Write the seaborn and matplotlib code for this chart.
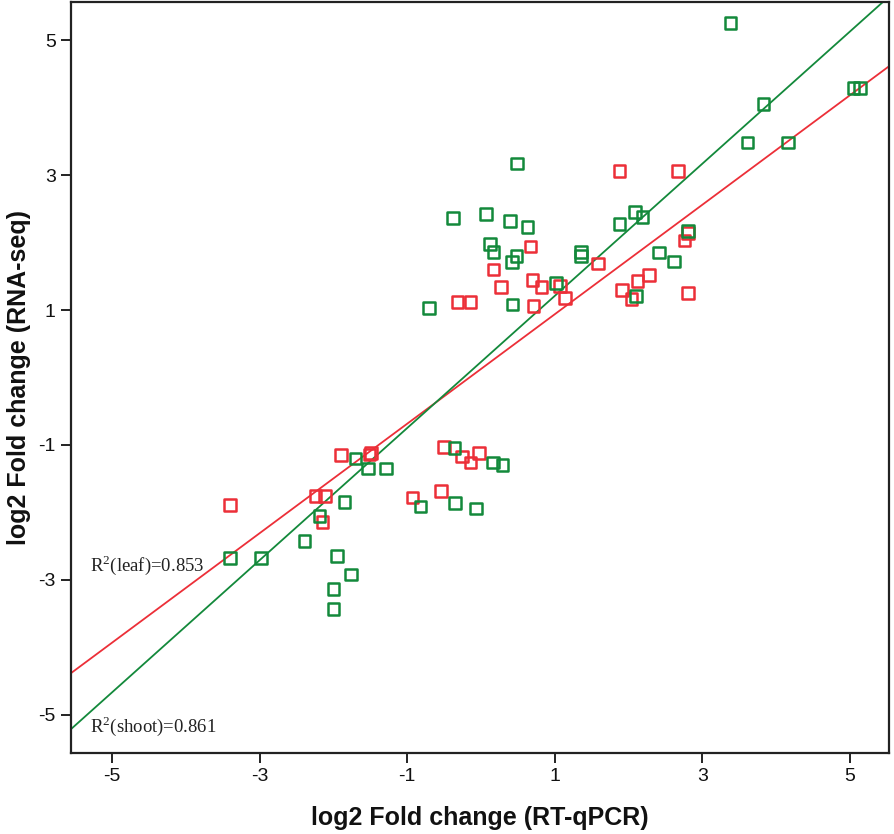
import numpy as np
import pandas as pd
import matplotlib
matplotlib.use("Agg")
import matplotlib.pyplot as plt
import seaborn as sns

# ---- data ----
shoot_x = [3.38, 5.05, 5.14, 3.83, 3.61, 4.16, 0.49, -0.375, 0.07, 0.39, 0.63,
           0.12, 0.17, 0.48, 0.42, -0.70, 0.43, 1.36, 1.36, 1.02, 1.88, 2.09,
           2.19, 2.81, 2.41, 2.62, 2.10,
           -1.70, -1.53, -1.29, -1.85, -2.19, -2.39, -1.95, -1.76, -2.00, -2.00,
           -0.82, -0.36, -0.35, -0.07, 0.16, 0.29, -3.40, -2.98]
shoot_y = [5.25, 4.29, 4.29, 4.05, 3.48, 3.48, 3.17, 2.36, 2.42, 2.32, 2.23,
           1.98, 1.86, 1.80, 1.71, 1.03, 1.08, 1.86, 1.80, 1.40, 2.27, 2.45,
           2.38, 2.17, 1.85, 1.72, 1.21,
           -1.20, -1.35, -1.35, -1.84, -2.05, -2.42, -2.64, -2.92, -3.13, -3.43,
           -1.91, -1.04, -1.86, -1.94, -1.26, -1.30, -2.67, -2.67]
leaf_x = [1.88, 2.67, 0.67, 0.17, 0.27, 0.70, 0.82, 1.07, 1.14, -0.32, -0.14,
          0.71, 1.59, 1.91, 2.12, 2.28, 2.04, 2.81, 2.76, 2.81,
          -1.90, -1.51, -1.49, -2.24, -2.11, -2.15, -0.93, -0.54, -0.50, -0.26,
          -0.14, -0.03, -3.40]
leaf_y = [3.06, 3.06, 1.94, 1.60, 1.34, 1.44, 1.34, 1.36, 1.18, 1.12, 1.12,
          1.06, 1.69, 1.30, 1.43, 1.52, 1.16, 2.14, 2.03, 1.25,
          -1.15, -1.14, -1.12, -1.76, -1.76, -2.14, -1.78, -1.68, -1.03, -1.17,
          -1.26, -1.12, -1.89]

# fitted lines (slope, intercept) as shown in the reference
shoot_fit = (0.979, 0.23)
leaf_fit = (0.811, 0.126)
r2_leaf_label = "R$^2$(leaf)=0.853"
r2_shoot_label = "R$^2$(shoot)=0.861"

ticks = [-5, -3, -1, 1, 3, 5]
xlim = (-5.556, 5.53)
ylim = (-5.563, 5.563)

green = "#13893b"
red = "#ec2f38"

sns.set_theme(style="white")
plt.rcParams["font.family"] = ["Liberation Sans", "DejaVu Sans"]
plt.rcParams["mathtext.fontset"] = "custom"
plt.rcParams["mathtext.rm"] = "Liberation Serif"

fig = plt.figure(figsize=(8.94, 8.34), dpi=100)
ax = fig.add_axes([71/894, 1-753/834, (889-71)/894, (753-2)/834])

df = pd.concat([
    pd.DataFrame({"x": leaf_x, "y": leaf_y, "tissue": "leaf"}),
    pd.DataFrame({"x": shoot_x, "y": shoot_y, "tissue": "shoot"}),
])

sns.scatterplot(data=df, x="x", y="y", hue="tissue",
                palette={"leaf": red, "shoot": green},
                marker="s", s=70, linewidth=1.8,
                legend=False, ax=ax, zorder=3)
# make squares hollow with coloured edges
for coll in ax.collections:
    fc = coll.get_facecolors()
    coll.set_edgecolors(fc)
    coll.set_facecolors("none")

xx = np.array(xlim)
ax.plot(xx, leaf_fit[0]*xx + leaf_fit[1], color=red, lw=1.3, zorder=2)
ax.plot(xx, shoot_fit[0]*xx + shoot_fit[1], color=green, lw=1.3, zorder=2)

ax.text(-5.30, -2.78, r2_leaf_label, family=["Liberation Serif"], fontsize=13.5,
        va="center", ha="left", color="#222222")
ax.text(-5.30, -5.16, r2_shoot_label, family=["Liberation Serif"], fontsize=13.5,
        va="center", ha="left", color="#222222")

ax.set_xlim(*xlim)
ax.set_ylim(*ylim)
ax.set_xticks(ticks)
ax.set_yticks(ticks)
ax.set_xticklabels([str(t) for t in ticks])
ax.set_yticklabels([str(t) for t in ticks])
ax.tick_params(axis="both", direction="out", length=7, width=1.3,
               labelsize=14, colors="#111111", pad=4, bottom=True, left=True)
for sp in ax.spines.values():
    sp.set_linewidth(1.6)
    sp.set_color("#222222")

ax.set_xlabel("log2 Fold change (RT-qPCR)", fontsize=18, fontweight="bold",
              labelpad=15, color="#111111")
ax.set_ylabel("log2 Fold change (RNA-seq)", fontsize=18, fontweight="bold",
              labelpad=5, color="#111111")

fig.savefig("out.png", dpi=100)
